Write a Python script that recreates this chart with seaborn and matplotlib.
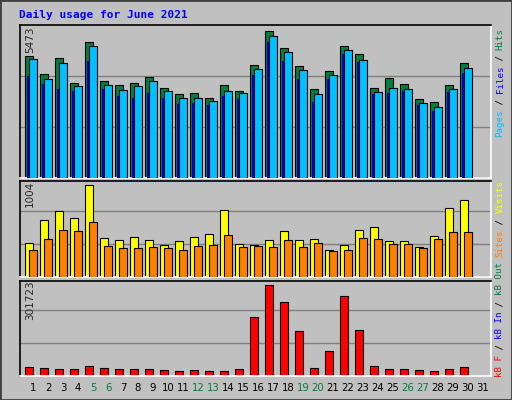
import matplotlib
matplotlib.use("Agg")
import matplotlib.pyplot as plt
import seaborn as sns
import numpy as np
from matplotlib.patches import Rectangle

days = list(range(1, 32))
hits = [4375,3731,4303,3409,4875,3481,3338,3409,3624,3230,3016,3052,2873,3338,3123,4053,5269,4661,4017,3195,3838,4732,4446,3230,3588,3373,2837,2730,3338,4124,0]
files = [4267,3552,4124,3302,4732,3338,3159,3302,3481,3123,2873,2873,2765,3123,3052,3910,5090,4518,3874,3016,3695,4589,4232,3087,3230,3195,2694,2551,3195,3946,0]
pages = [3659,3373,3195,3123,4196,3195,2944,2873,3052,2873,2658,2694,2622,2944,2837,3695,4875,4196,3552,2730,3552,4446,4160,3016,3052,3123,2622,2408,3087,3767,0]
visits = [346,579,669,599,932,397,377,407,377,326,367,407,437,680,336,326,377,468,377,387,276,326,478,508,367,367,306,417,700,780,0]
sites = [276,387,478,468,558,316,296,296,306,296,276,316,326,427,306,316,306,377,306,346,266,276,397,387,336,336,296,387,458,458,0]
kbytes = [28450,25400,22350,22350,31500,25400,22350,22350,22350,19300,16260,19300,16260,16260,22350,180850,278380,226570,138180,25400,77220,244860,141220,31500,22350,22350,19300,16260,22350,28450,0]
weekends = [5, 6, 12, 13, 19, 20, 26, 27]
max_hits, max_visits, max_kb = 5473, 1004, 301723

sns.set_style("white")
plt.rcParams['font.family'] = ['DejaVu Sans']
BG = "#c0c0c0"
fig = plt.figure(figsize=(5.12, 4.0), dpi=100, facecolor=BG)
W, H = 512, 400
def axes_px(top, bottom):
    return fig.add_axes([20/W, 1-bottom/H, 470.7/W, (bottom-top)/H])

ax1 = axes_px(25, 178)
ax2 = axes_px(181, 277)
ax3 = axes_px(280.7, 376)
x = np.array(days)
ec = dict(edgecolor="black", linewidth=0.8)
ax1.bar(x-0.51, hits, width=0.49, align='edge', color="#008040", **ec, zorder=2)
ax1.bar(x-0.38, pages, width=0.13, align='edge', color="#0000c8", linewidth=0, zorder=3)
ax1.bar(x-0.24, files, width=0.49, align='edge', color="#00c0ff", **ec, zorder=4)
ax2.bar(x-0.51, visits, width=0.53, align='edge', color="#ffff00", **ec, zorder=2)
ax2.bar(x-0.24, sites, width=0.49, align='edge', color="#ff8000", **ec, zorder=3)
ax3.bar(x-0.51, kbytes, width=0.49, align='edge', color="#ff0000", **ec, zorder=2)

for ax, m, frac in [(ax1, max_hits, 1.0), (ax2, max_visits, 96/99), (ax3, max_kb, 95.3/99)]:
    ax.set_facecolor(BG)
    ax.set_xlim(0.133, 31.51)
    ax.set_ylim(0, m*frac)
    for g in (m/3, 2*m/3):
        ax.axhline(g, color="#808080", linewidth=1, zorder=1)
    ax.set_xticks([]); ax.set_yticks([])
    for s in ("top", "left"):
        ax.spines[s].set_color("black")
    for s in ("bottom", "right"):
        ax.spines[s].set_color("white")
    for s in ax.spines.values():
        s.set_linewidth(1.2)

def fx(px): return px/W
def fy(py): return 1-py/H

fig.text(fx(19), fy(15), "Daily usage for June 2021", family="DejaVu Sans Mono",
         weight="bold", color="#0000ff", fontsize=8, va="center")
fig.text(fx(30), fy(40), str(max_hits), rotation=90, fontsize=7.5, ha="center", va="center")
fig.text(fx(30), fy(194), str(max_visits), rotation=90, fontsize=7.5, ha="center", va="center")
fig.text(fx(30), fy(300), str(max_kb), rotation=90, fontsize=7.5, ha="center", va="center")

for d in days:
    fig.text(fx(20 + (d - 0.133)*15.0), fy(388), str(d), fontsize=7.3, ha="center", va="center",
             color="#008040" if d in weekends else "black")

cw = 5.45
def vlabel(segs, y_bottom):
    pos = 0
    for txt, col in segs:
        fig.text(fx(500), fy(y_bottom - pos*cw), txt, rotation=90, family="DejaVu Sans Mono",
                 fontsize=6.6, color=col, ha="center", va="bottom")
        pos += len(txt)
vlabel([("Pages", "#00c0ff"), (" / ", "black"), ("Files", "#0000ff"), (" / ", "black"), ("Hits", "#008040")], 137)
vlabel([("kB F", "#ff0000"), (" / ", "black"), ("kB In", "#0000ff"), (" / ", "black"),
        ("kB Out", "#008040"), (" ", "black"), ("Sites", "#ff8000"), (" / ", "black"), ("Visits", "#ffff00")], 377)

fig.patches.append(Rectangle((0, 0), 1, 1, transform=fig.transFigure, fill=False,
                             edgecolor="#404040", linewidth=2))
fig.savefig("out.png", dpi=100, facecolor=BG)
